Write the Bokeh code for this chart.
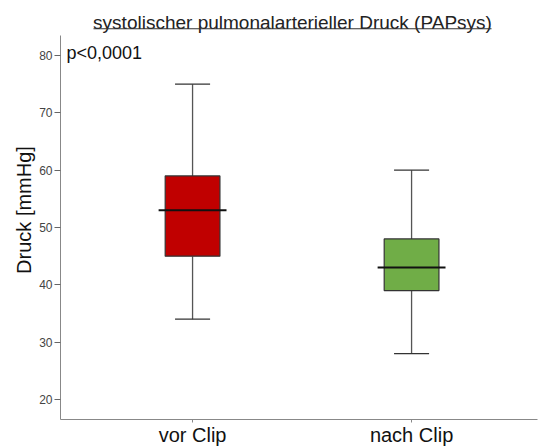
from bokeh.plotting import figure
from bokeh.models import FixedTicker, Label, BoxAnnotation, Range1d
from bokeh.embed import file_html
from bokeh.resources import INLINE

# Box-plot statistics (mmHg)
groups = ["vor Clip", "nach Clip"]
positions = [1, 2]
whisker_low = [34, 28]
q1 = [45, 39]
median = [53, 43]
q3 = [59, 48]
whisker_high = [75, 60]
colors = ["#C00000", "#70AD47"]
y_ticks = [20, 30, 40, 50, 60, 70, 80]

FONT = "Liberation Sans"
Y_MIN, Y_AXIS_TOP, Y_TOP = 16.5, 83.5, 89.6

p = figure(width=538, height=448, output_backend="svg", toolbar_location=None,
           x_range=Range1d(0.397, 2.575), y_range=Range1d(Y_MIN, Y_TOP),
           min_border_left=60, min_border_right=1, min_border_top=0, min_border_bottom=28)
p.outline_line_color = None
p.xgrid.visible = False
p.ygrid.visible = False
p.background_fill_color = "white"

box_w = 0.25
cap_w = 0.16
med_w = 0.31

# whiskers
p.segment(x0=positions, y0=whisker_low, x1=positions, y1=q1, line_color="#555555", line_width=1.3)
p.segment(x0=positions, y0=q3, x1=positions, y1=whisker_high, line_color="#555555", line_width=1.3)
# caps
p.segment(x0=[x - cap_w / 2 for x in positions], y0=whisker_low,
          x1=[x + cap_w / 2 for x in positions], y1=whisker_low, line_color="#333333", line_width=1.3)
p.segment(x0=[x - cap_w / 2 for x in positions], y0=whisker_high,
          x1=[x + cap_w / 2 for x in positions], y1=whisker_high, line_color="#333333", line_width=1.3)
# boxes
p.vbar(x=positions, width=box_w, bottom=q1, top=q3, fill_color=colors,
       line_color="#333333", line_width=1.2)
# medians
p.segment(x0=[x - med_w / 2 for x in positions], y0=median,
          x1=[x + med_w / 2 for x in positions], y1=median, line_color="#111111", line_width=2)

# axes
p.yaxis.ticker = FixedTicker(ticks=y_ticks)
p.yaxis.bounds = (Y_MIN, Y_AXIS_TOP)
p.yaxis.minor_tick_line_color = None
p.yaxis.major_tick_in = 0
p.yaxis.major_tick_out = 6
p.yaxis.axis_line_color = "#888888"
p.yaxis.major_tick_line_color = "#666666"
p.yaxis.major_label_text_font = FONT
p.yaxis.major_label_text_font_size = "12px"
p.yaxis.major_label_text_color = "#444444"
p.yaxis.major_label_standoff = 2
p.yaxis.axis_label = "Druck [mmHg]"
p.yaxis.axis_label_text_font = FONT
p.yaxis.axis_label_text_font_size = "20px"
p.yaxis.axis_label_text_font_style = "normal"
p.yaxis.axis_label_text_color = "#111111"
p.yaxis.axis_label_standoff = 1

p.xaxis.ticker = FixedTicker(ticks=positions)
p.xaxis.major_label_overrides = {pos: g for pos, g in zip(positions, groups)}
p.xaxis.minor_tick_line_color = None
p.xaxis.major_tick_in = 0
p.xaxis.major_tick_out = 3
p.xaxis.axis_line_color = "#888888"
p.xaxis.major_tick_line_color = "#888888"
p.xaxis.major_label_text_font = FONT
p.xaxis.major_label_text_font_size = "20px"
p.xaxis.major_label_text_color = "#111111"
p.xaxis.major_label_standoff = 1

# p-value
p.add_layout(Label(x=6, y=80.5, x_units="screen", y_units="data", text="p<0,0001",
                   text_font=FONT, text_font_size="18px", text_color="#111111",
                   text_baseline="alphabetic"))

# underlined title
p.add_layout(Label(x=232, y=85.8, x_units="screen", y_units="data",
                   text="systolischer pulmonalarterieller Druck (PAPsys)",
                   text_font=FONT, text_font_size="19px", text_color="#222222",
                   text_align="center", text_baseline="alphabetic"))
p.add_layout(BoxAnnotation(left=33, right=431, left_units="screen", right_units="screen",
                           bottom=84.58, top=84.76, fill_color="#333333", fill_alpha=1,
                           line_color=None))

out = open("out.html", "w")
out.write(file_html(p, INLINE))
out.close()
